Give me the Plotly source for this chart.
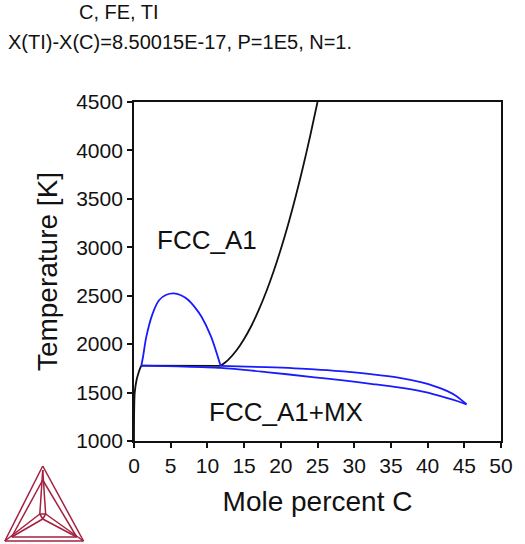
import plotly.graph_objects as go

# --- phase boundary data (mole percent C, temperature in K) ---
solvus_left_x = [0, 0.02, 0.1, 0.35, 0.6, 0.8, 1.0]
solvus_left_T = [1000, 1300, 1500, 1630, 1700, 1745, 1778]

tie_x = [1.0, 11.8]
tie_T = [1778, 1776]

liquidus_x = [11.8, 12.8, 14, 15, 16, 17, 18, 19, 20, 21, 22, 23, 24, 25]
liquidus_T = [1776, 1835, 1940, 2054, 2190, 2353, 2538, 2747, 2980, 3236, 3517, 3821, 4149, 4500]

dome_x = [1.0, 1.23, 1.68, 2.55, 3.44, 4.4, 5.4, 6.4, 7.4, 8.3, 9.2, 10.5, 11.8]
dome_T = [1778, 1870, 2077, 2318, 2456, 2510, 2525, 2505, 2456, 2380, 2283, 2077, 1776]

mx_lower_x = [1.0, 6, 11.8, 18, 24.6, 28.5, 32.5, 36, 39.2, 41, 42.7, 44, 45.3]
mx_lower_T = [1778, 1770, 1755, 1712, 1658, 1625, 1588, 1553, 1512, 1480, 1443, 1413, 1379]

mx_upper_x = [11.8, 18, 24.6, 28.5, 32.5, 36, 39.2, 41, 42.7, 44, 45.3]
mx_upper_T = [1776, 1762, 1740, 1718, 1689, 1655, 1605, 1565, 1515, 1460, 1379]

x_ticks = list(range(0, 51, 5))
y_ticks = list(range(1000, 4501, 500))

FONT = "Liberation Sans, Arial, sans-serif"
BLUE = "#1a1aff"
BLACK = "#111111"
LOGO = "#a3203f"

fig = go.Figure()

def add_line(x, y, color, shape="spline"):
    fig.add_trace(go.Scatter(x=x, y=y, mode="lines",
                             line=dict(color=color, width=1.8, shape=shape, smoothing=0.8),
                             showlegend=False, hoverinfo="skip"))

add_line(solvus_left_x, solvus_left_T, BLACK)
add_line(tie_x, tie_T, BLACK, "linear")
add_line(liquidus_x, liquidus_T, BLACK)
add_line(dome_x, dome_T, BLUE)
add_line(mx_lower_x, mx_lower_T, BLUE)
add_line(mx_upper_x, mx_upper_T, BLUE)

# plot area in pixels: x 134..512, y 102..441
L, R, T, B = 134, 512, 102, 441
W, H = 525, 544

def px(x):
    return (x - L) / (R - L)

def py(y):
    return (B - y) / (B - T)

annotations = [
    dict(text="C, FE, TI", x=px(75), y=py(12), xref="paper", yref="paper",
         xanchor="left", yanchor="middle", showarrow=False,
         font=dict(family=FONT, size=20, color=BLACK)),
    dict(text="X(TI)-X(C)=8.50015E-17, P=1E5, N=1.", x=px(2), y=py(42), xref="paper", yref="paper",
         xanchor="left", yanchor="middle", showarrow=False,
         font=dict(family=FONT, size=20, color=BLACK)),
    dict(text="FCC_A1", x=2.8, y=3075, xref="x", yref="y",
         xanchor="left", yanchor="middle", showarrow=False,
         font=dict(family=FONT, size=26, color=BLACK)),
    dict(text="FCC_A1+MX", x=10.0, y=1300, xref="x", yref="y",
         xanchor="left", yanchor="middle", showarrow=False,
         font=dict(family=FONT, size=26, color=BLACK)),
]

# Thermo-Calc style triangle logo
logo_segments = [
    # outer triangle
    ((40, 466), (1, 541)), ((40, 466), (82, 541)), ((1, 541), (82, 541)),
    # inner triangle
    ((40, 480), (8, 537)), ((40, 480), (75, 537)), ((8, 537), (75, 537)),
    # central spike
    ((40, 470), (37, 514)), ((40, 470), (43, 514)),
    ((37, 514), (43, 514)), ((37, 514), (40, 519)), ((43, 514), (40, 519)),
    # spokes to the base corners
    ((37, 514), (1, 541)), ((43, 514), (82, 541)),
    ((40, 519), (8, 537)), ((40, 519), (75, 537)),
]
shapes = []
for (x0, y0), (x1, y1) in logo_segments:
    shapes.append(dict(type="line", xref="paper", yref="paper",
                       x0=px(x0), y0=py(y0), x1=px(x1), y1=py(y1),
                       line=dict(color=LOGO, width=1.5)))

fig.update_layout(
    width=W, height=H,
    margin=dict(l=L, r=W - R, t=T, b=H - B),
    paper_bgcolor="white", plot_bgcolor="white",
    font=dict(family=FONT, color=BLACK),
    annotations=annotations,
    shapes=shapes,
    showlegend=False,
)
fig.update_xaxes(range=[0, 50], tickvals=x_ticks, ticks="outside", ticklen=5,
                 tickwidth=1.8, tickcolor=BLACK, showline=True, linecolor=BLACK,
                 linewidth=1.8, mirror=True, showgrid=False, zeroline=False,
                 tickfont=dict(family=FONT, size=21, color=BLACK),
                 title=dict(text="Mole percent C", font=dict(family=FONT, size=28, color=BLACK),
                            standoff=15))
fig.update_yaxes(range=[1000, 4500], tickvals=y_ticks, ticks="outside", ticklen=5,
                 tickwidth=1.8, tickcolor=BLACK, showline=True, linecolor=BLACK,
                 linewidth=1.8, mirror=True, showgrid=False, zeroline=False,
                 tickfont=dict(family=FONT, size=21, color=BLACK),
                 title=dict(text="Temperature [K]", font=dict(family=FONT, size=28, color=BLACK),
                            standoff=10))

fig.write_html("out.html")
